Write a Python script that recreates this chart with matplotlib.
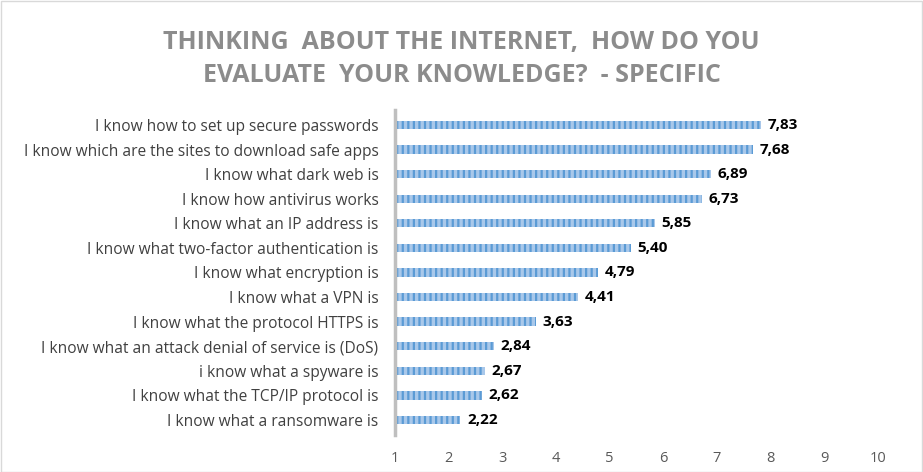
import matplotlib.pyplot as plt
import matplotlib as mpl

# ============== 数据 ==============
labels = [
    "I know how to set up secure passwords",
    "I know which are the sites to download safe apps",
    "I know what dark web is",
    "I know how antivirus works",
    "I know what an IP address is",
    "I know what two-factor authentication is",
    "I know what encryption is",
    "I know what a VPN is",
    "I know what the protocol HTTPS is",
    "I know what an attack denial of service is (DoS)",
    "i know what a spyware is",
    "I know what the TCP/IP protocol is",
    "I know what a ransomware is",
]
values = [7.83, 7.68, 6.89, 6.73, 5.85, 5.40, 4.79, 4.41, 3.63, 2.84, 2.67, 2.62, 2.22]
x_ticks = [1, 2, 3, 4, 5, 6, 7, 8, 9, 10]
title_lines = ["THINKING  ABOUT THE INTERNET,  HOW DO YOU",
               "EVALUATE  YOUR KNOWLEDGE?  - SPECIFIC"]

mpl.rcParams['font.family'] = ['Open Sans', 'DejaVu Sans']
mpl.rcParams['hatch.linewidth'] = 1.6

fig = plt.figure(figsize=(9.23, 4.72), dpi=100)
ax = fig.add_axes([0.428, 0.079, 0.523, 0.6875])

ypos = list(range(len(labels)))[::-1]
ax.barh(ypos, [v - 1 for v in values], left=1, height=0.34,
        color='#a9c8ea', edgecolor='#5b9bd5', hatch='|||', linewidth=0)

for y, v in zip(ypos, values):
    ax.text(v + 0.12, y, f"{v:.2f}".replace('.', ','), va='center', ha='left',
            fontsize=11, fontweight='bold', color='black')

ax.set_xlim(1, 10)
ax.set_ylim(-0.6, len(labels) - 0.4)
ax.set_xticks(x_ticks)
ax.set_xticklabels([str(t) for t in x_ticks], fontsize=10.5, color='#595959')
ax.set_yticks(ypos)
ax.set_yticklabels(labels, fontsize=11.2, color='#404040')
ax.tick_params(axis='x', length=0, pad=12)
ax.tick_params(axis='y', length=0, pad=12)

for s in ['top', 'right', 'bottom']:
    ax.spines[s].set_visible(False)
ax.spines['left'].set_color('#bfbfbf')
ax.spines['left'].set_linewidth(2.5)

# 标题（两行，字距较宽）
for i, line in enumerate(title_lines):
    fig.text(0.5, 0.91 - i * 0.071, line, ha='center', va='center', fontsize=18,
             fontweight='bold', color='#8c8c8c')

# 外边框
fig.patches.append(plt.Rectangle((0.001, 0.001), 0.998, 0.997, transform=fig.transFigure,
                                 fill=False, edgecolor='#d9d9d9', linewidth=1))

fig.savefig('out.png', dpi=100)
